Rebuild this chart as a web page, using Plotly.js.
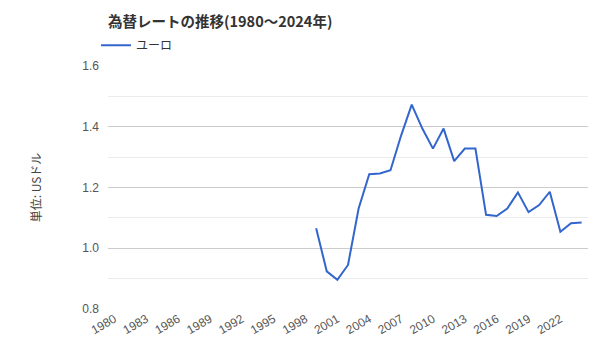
<!DOCTYPE html>
<html>
<head>
<meta charset="utf-8">
<script src="https://cdn.plot.ly/plotly-3.0.1.min.js"></script>
<style>html,body{margin:0;padding:0;background:#fff;}#chart{width:600px;height:360px;}</style>
</head>
<body>
<div id="chart"></div>
<script>
const years = [1999,2000,2001,2002,2003,2004,2005,2006,2007,2008,2009,2010,2011,2012,2013,2014,2015,2016,2017,2018,2019,2020,2021,2022,2023,2024];
const euro = [1.066,0.924,0.896,0.945,1.131,1.244,1.246,1.257,1.371,1.473,1.394,1.328,1.394,1.287,1.328,1.328,1.110,1.106,1.131,1.184,1.119,1.142,1.186,1.054,1.082,1.085];
const tickYears = [1980,1983,1986,1989,1992,1995,1998,2001,2004,2007,2010,2013,2016,2019,2022];
const seriesName = 'ユーロ';
const titleText = '為替レートの推移(1980～2024年)';
const yTitle = '単位: USドル';

const font = '"Liberation Sans", Arial, "Noto Sans CJK JP", sans-serif';
const jfont = '"Noto Sans CJK JP", "Liberation Sans", sans-serif';

Plotly.newPlot('chart', [{
  x: years, y: euro, type: 'scatter', mode: 'lines', name: seriesName,
  line: {color: '#3366cc', width: 2}
}], {
  width: 600, height: 360,
  margin: {l: 108, r: 12, t: 66, b: 51, autoexpand: false},
  paper_bgcolor: '#fff', plot_bgcolor: '#fff',
  font: {family: font, size: 12, color: '#444'},
  title: {text: '<b>' + titleText + '</b>', x: 0, xref: 'paper', xanchor: 'left', y: 0.94, yref: 'container', yanchor: 'middle',
          font: {family: jfont, size: 14.5, color: '#333'}},
  showlegend: true,
  legend: {x: -0.025, xanchor: 'left', y: 1.085, yanchor: 'middle', orientation: 'h', font: {family: jfont, size: 12, color: '#333'}, bgcolor: 'rgba(0,0,0,0)'},
  xaxis: {type: 'linear', range: [1979.4, 2024.6], tickvals: tickYears, ticktext: tickYears.map(String), tickangle: -30, automargin: false,
          showgrid: false, zeroline: false, showline: false, ticks: '', tickfont: {family: font, size: 12, color: '#555'}},
  yaxis: {range: [0.8, 1.6], dtick: 0.2, tickformat: '.1f', showgrid: true, gridcolor: '#cccccc', gridwidth: 1, automargin: false,
          minor: {dtick: 0.1, showgrid: true, gridcolor: '#ebebeb'}, ticklabelstandoff: 8,
          zeroline: false, showline: false, ticks: '', ticklen: 0, tickfont: {family: font, size: 12, color: '#555'},
          title: {text: yTitle, font: {family: jfont, size: 12, color: '#444'}, standoff: 38}}
}, {displayModeBar: false, staticPlot: true});
</script>
</body>
</html>
